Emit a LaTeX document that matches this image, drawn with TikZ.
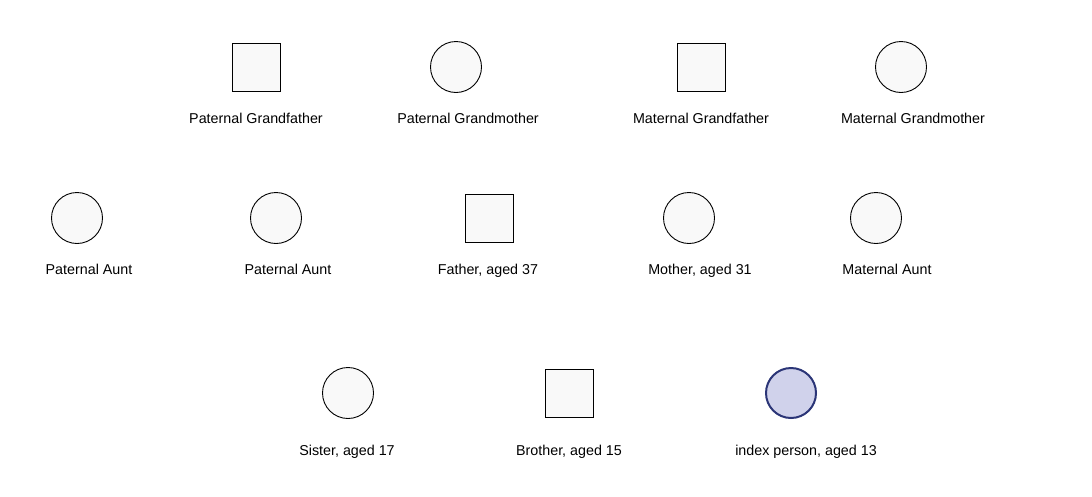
\documentclass[tikz,border=0pt]{standalone}
\usepackage{fontspec}
\setmainfont{Liberation Sans}
\definecolor{shapefill}{HTML}{F9F9F9}
\definecolor{indexfill}{HTML}{D0D2EB}
\definecolor{indexline}{HTML}{2B3577}
\begin{document}
\begin{tikzpicture}[x=1pt,y=-1pt,
  male/.style={draw=black,fill=shapefill,line width=0.9pt,minimum size=48pt,inner sep=0pt,rectangle},
  female/.style={draw=black,fill=shapefill,line width=0.9pt,minimum size=51pt,inner sep=0pt,circle},
  indexp/.style={draw=indexline,fill=indexfill,line width=2pt,minimum size=50pt,inner sep=0pt,circle},
  lbl/.style={font=\fontsize{14.3}{16}\selectfont,inner sep=0pt,text height=10.2pt,text depth=3pt,anchor=center,yshift=-2pt}]
\useasboundingbox[fill=white] (0,0) rectangle (1092,496);
% row 1
\node[male] (pgf) at (256,67) {};
\node[female] (pgm) at (456,67) {};
\node[male] (mgf) at (701,67) {};
\node[female] (mgm) at (901,67) {};
\node[lbl] (pgfl) at (256,118) {Paternal Grandfather};
\node[lbl] (pgml) at (468,118) {Paternal Grandmother};
\node[lbl] (mgfl) at (701,118) {Maternal Grandfather};
\node[lbl] (mgml) at (913,118) {Maternal Grandmother};
% row 2
\node[female] (pa1) at (77,218) {};
\node[female] (pa2) at (276,218) {};
\node[male] (fa) at (489,218) {};
\node[female] (mo) at (689,218) {};
\node[female] (ma) at (876,218) {};
\node[lbl] (pa1l) at (89,269) {Paternal Aunt};
\node[lbl] (pa2l) at (288,269) {Paternal Aunt};
\node[lbl] (fal) at (488,269) {Father, aged 37};
\node[lbl] (mol) at (700,269) {Mother, aged 31};
\node[lbl] (mal) at (887,269) {Maternal Aunt};
% row 3
\node[female] (si) at (348,393) {};
\node[male] (br) at (569,393) {};
\node[indexp] (ip) at (791,393) {};
\node[lbl] (sil) at (347,450) {Sister, aged 17};
\node[lbl] (brl) at (569,450) {Brother, aged 15};
\node[lbl] (ipl) at (806,450) {index person, aged 13};
\end{tikzpicture}
\end{document}
